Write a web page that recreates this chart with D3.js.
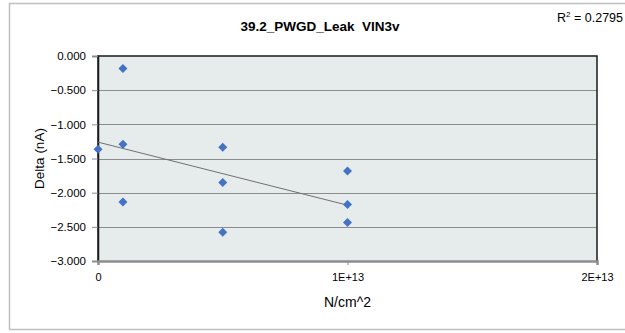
<!DOCTYPE html>
<html lang="en">
<head>
<meta charset="utf-8">
<title>39.2_PWGD_Leak VIN3v</title>
<script src="https://d3js.org/d3.v7.min.js"></script>
<style>
  body { margin: 0; background: #fff; }
  text { font-family: "Liberation Sans", Arial, sans-serif; fill: #000; }
</style>
</head>
<body>
<div id="chart"></div>
<script>
// readings
const fluence = [0, 1e12, 1e12, 1e12, 5e12, 5e12, 5e12, 1e13, 1e13, 1e13];
const delta   = [-1.363, -0.182, -1.290, -2.138, -1.335, -1.853, -2.579, -1.684, -2.172, -2.438];
const yTicks = [0, -0.5, -1, -1.5, -2, -2.5, -3];
const xTicks = [0, 1e13, 2e13];
const xLabels = ["0", "1E+13", "2E+13"];
const title = "39.2_PWGD_Leak  VIN3v";
const rLabel = "0.2795";

const width = 625, height = 333;
const margin = {top: 56, right: 28, bottom: 72, left: 98};

const svg = d3.select("#chart").append("svg")
    .attr("width", width)
    .attr("height", height);

// outer chart frame (right edge cut off)
svg.append("path")
    .attr("d", `M${width},3.5 H9.5 V329.5 H${width}`)
    .attr("fill", "none")
    .attr("stroke", "#bfbfbf")
    .attr("stroke-width", 1.5);

let x = d3.scaleLinear().domain([0, 2e13]).range([margin.left, width - margin.right]);
let y = d3.scaleLinear().domain([-3, 0]).range([height - margin.bottom, margin.top]);

// plot area
svg.append("rect")
    .attr("x", x(0))
    .attr("y", y(0))
    .attr("width", x(2e13) - x(0))
    .attr("height", y(-3) - y(0))
    .attr("fill", "#e6ebeb");

// gridlines
svg.append("g")
  .selectAll("line")
  .data(yTicks.filter(d => d > -3 && d < 0))
  .join("line")
    .attr("x1", x(0)).attr("x2", x(2e13))
    .attr("y1", d => Math.round(y(d)) + 0.5)
    .attr("y2", d => Math.round(y(d)) + 0.5)
    .attr("stroke", "#8c8c8c")
    .attr("stroke-width", 1);

// plot border
svg.append("path")
    .attr("d", `M${x(0)},${y(-3)} V${y(0)} H${x(2e13)} V${y(-3)}`)
    .attr("fill", "none")
    .attr("stroke", "#1a1a1a")
    .attr("stroke-width", 1.5);

// y axis
svg.append("g")
    .attr("transform", `translate(${x(0)},0)`)
    .call(d3.axisLeft(y).tickValues(yTicks).tickFormat(d3.format(".3f")).tickSize(6).tickPadding(6))
    .call(g => g.select(".domain").attr("stroke", "#1a1a1a").attr("stroke-width", 1.5))
    .call(g => g.selectAll(".tick line").attr("stroke", "#8c8c8c"))
    .call(g => g.selectAll("text").style("font-size", "11.5px").attr("fill", "#000"));

// x axis
svg.append("g")
    .attr("transform", `translate(0,${y(-3)})`)
    .call(d3.axisBottom(x).tickValues(xTicks).tickFormat((d, i) => xLabels[i]).tickSize(4).tickPadding(8))
    .call(g => g.select(".domain").attr("stroke", "#8c8c8c").attr("stroke-width", 2.5))
    .call(g => g.selectAll(".tick line").attr("stroke", "#8c8c8c"))
    .call(g => g.selectAll("text").style("font-size", "11px").attr("fill", "#000"));

// linear trendline over the data range
const mx = d3.mean(fluence), my = d3.mean(delta);
const slope = d3.sum(fluence, (v, i) => (v - mx) * (delta[i] - my)) / d3.sum(fluence, v => (v - mx) ** 2);
const icpt = my - slope * mx;
const xr = d3.extent(fluence);
svg.append("line")
    .attr("x1", x(xr[0])).attr("y1", y(icpt + slope * xr[0]))
    .attr("x2", x(xr[1])).attr("y2", y(icpt + slope * xr[1]))
    .attr("stroke", "#707070")
    .attr("stroke-width", 1);

// markers
svg.append("g")
  .selectAll("path")
  .data(fluence.map((f, i) => ({f, d: delta[i]})))
  .join("path")
    .attr("transform", d => `translate(${x(d.f)},${y(d.d)})`)
    .attr("d", "M0,-4.5 L4.5,0 L0,4.5 L-4.5,0 Z")
    .attr("fill", "#4472c4");

// titles
svg.append("text")
    .attr("x", 320).attr("y", 31)
    .attr("text-anchor", "middle")
    .style("font-size", "13.5px").style("font-weight", "bold")
    .style("white-space", "pre")
    .text(title);

svg.append("text")
    .attr("transform", `translate(44,${(y(0) + y(-3)) / 2}) rotate(-90)`)
    .attr("text-anchor", "middle")
    .style("font-size", "13.5px")
    .text("Delta (nA)");

svg.append("text")
    .attr("x", x(1e13)).attr("y", 307)
    .attr("text-anchor", "middle")
    .style("font-size", "14px")
    .text("N/cm^2");

const r2 = svg.append("text")
    .attr("x", 623).attr("y", 22)
    .attr("text-anchor", "end")
    .style("font-size", "12.5px");
r2.append("tspan").text("R");
r2.append("tspan").attr("dy", -5).style("font-size", "8px").text("2");
r2.append("tspan").attr("dy", 5).text(" = " + rLabel);
</script>
</body>
</html>
